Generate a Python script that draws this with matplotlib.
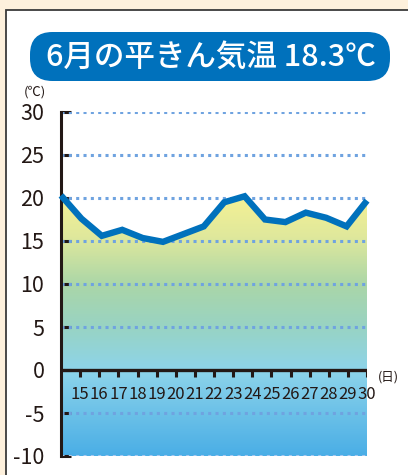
import numpy as np
import matplotlib
matplotlib.use("Agg")
import matplotlib.pyplot as plt
from matplotlib import font_manager
from matplotlib.colors import LinearSegmentedColormap
from matplotlib.patches import Rectangle, FancyBboxPatch

plt.rcParams['font.family'] = ['Noto Sans CJK JP', 'DejaVu Sans']

days = [15, 16, 17, 18, 19, 20, 21, 22, 23, 24, 25, 26, 27, 28, 29, 30]
temps = [20.3, 17.6, 15.6, 16.3, 15.35, 14.9, 15.8, 16.7,
         19.5, 20.2, 17.5, 17.2, 18.3, 17.7, 16.7, 19.7]
yticks = [-10, -5, 0, 5, 10, 15, 20, 25, 30]
title = '6月の平きん気温 18.3℃'

names = {f.name for f in font_manager.fontManager.ttflist}
narrow = 'Liberation Sans Narrow' if 'Liberation Sans Narrow' in names else 'Noto Sans CJK JP'

W, H = 408, 475
fig = plt.figure(figsize=(W / 100, H / 100), dpi=100)
fig.patch.set_facecolor('#fdf0dc')

# white panel
fig.patches.append(Rectangle((5.5 / W, -0.05), 1.1, (H - 10) / H + 0.05,
                             transform=fig.transFigure, facecolor='white',
                             edgecolor='#3a3a3a', linewidth=1.3, zorder=-2))

# title pill
fig.patches.append(FancyBboxPatch((30 / W, (H - 81) / H), 360 / W, 49 / H,
                                  boxstyle='round,pad=0,rounding_size=0.055',
                                  transform=fig.transFigure, facecolor='#0071bc',
                                  edgecolor='none', zorder=-1,
                                  mutation_aspect=W / H))
fig.text(211 / W, (H - 57) / H, title, color='white', fontsize=22,
         fontweight='medium', ha='center', va='center', zorder=2)

ax = fig.add_axes([61 / W, (H - 456) / H, (367 - 61) / W, (456 - 112) / H])
ax.set_zorder(3)
ax.set_xlim(0, len(temps) - 1)
ax.set_ylim(-10, 30)
ax.patch.set_alpha(0)

x = np.arange(len(temps))

# gradient fill under the line
cmap = LinearSegmentedColormap.from_list('t', [
    (0.0, '#4aaee6'), (0.32, '#8dd4ea'), (0.48, '#98d3c4'),
    (0.64, '#aad6a8'), (0.82, '#dfe89c'), (1.0, '#f9f393')])
grad = np.linspace(0, 1, 256).reshape(-1, 1)
im = ax.imshow(grad, extent=(0, len(temps) - 1, -10, 21), origin='lower',
               aspect='auto', cmap=cmap, zorder=1)
poly = ax.fill_between(x, -10, temps, facecolor='none', edgecolor='none')
im.set_clip_path(poly.get_paths()[0], transform=ax.transData)

# dotted grid
for v in yticks:
    if v == 0:
        continue
    ax.axhline(v, color='#6fa3e0' if v != -10 else '#a9c8f0', lw=2.2,
               linestyle=(0, (1, 1.4)), zorder=2)

ax.plot(x, temps, color='#0071bc', lw=4.6, solid_joinstyle='miter',
        solid_capstyle='butt', zorder=4, clip_on=False)

# axes
for s in ['top', 'right', 'bottom']:
    ax.spines[s].set_visible(False)
ax.spines['left'].set_linewidth(2.2)
ax.spines['left'].set_color('#231815')
ax.axhline(0, color='#231815', lw=2.4, zorder=5)

ax.set_yticks(yticks)
ax.set_yticklabels([str(v) for v in yticks])
ax.tick_params(axis='y', direction='in', length=7, width=2.2, color='#231815',
               labelsize=15.5, pad=12, labelcolor='#231815')

ax.set_xticks([])
# day ticks drawn on the zero line, day 14 at the axis origin
span = len(temps) - 1
tick_x = [(d - (days[0] - 1)) * span / (days[-1] - days[0] + 1) for d in days]
for tx, d in zip(tick_x, days):
    ax.plot([tx, tx], [0, -0.85], color='#231815', lw=2.2, zorder=5,
            solid_capstyle='butt')
    ax.text(tx, -2.8, str(d), ha='center', va='center', fontsize=12,
            family=narrow, color='#231815', zorder=6)

fig.text(388 / W, (H - 377) / H, '(日)', fontsize=9, ha='center',
         va='center', color='#231815')
fig.text(35 / W, (H - 92) / H, '(℃)', fontsize=9.5, ha='center',
         va='center', color='#231815')

fig.savefig('out.png', dpi=100)
